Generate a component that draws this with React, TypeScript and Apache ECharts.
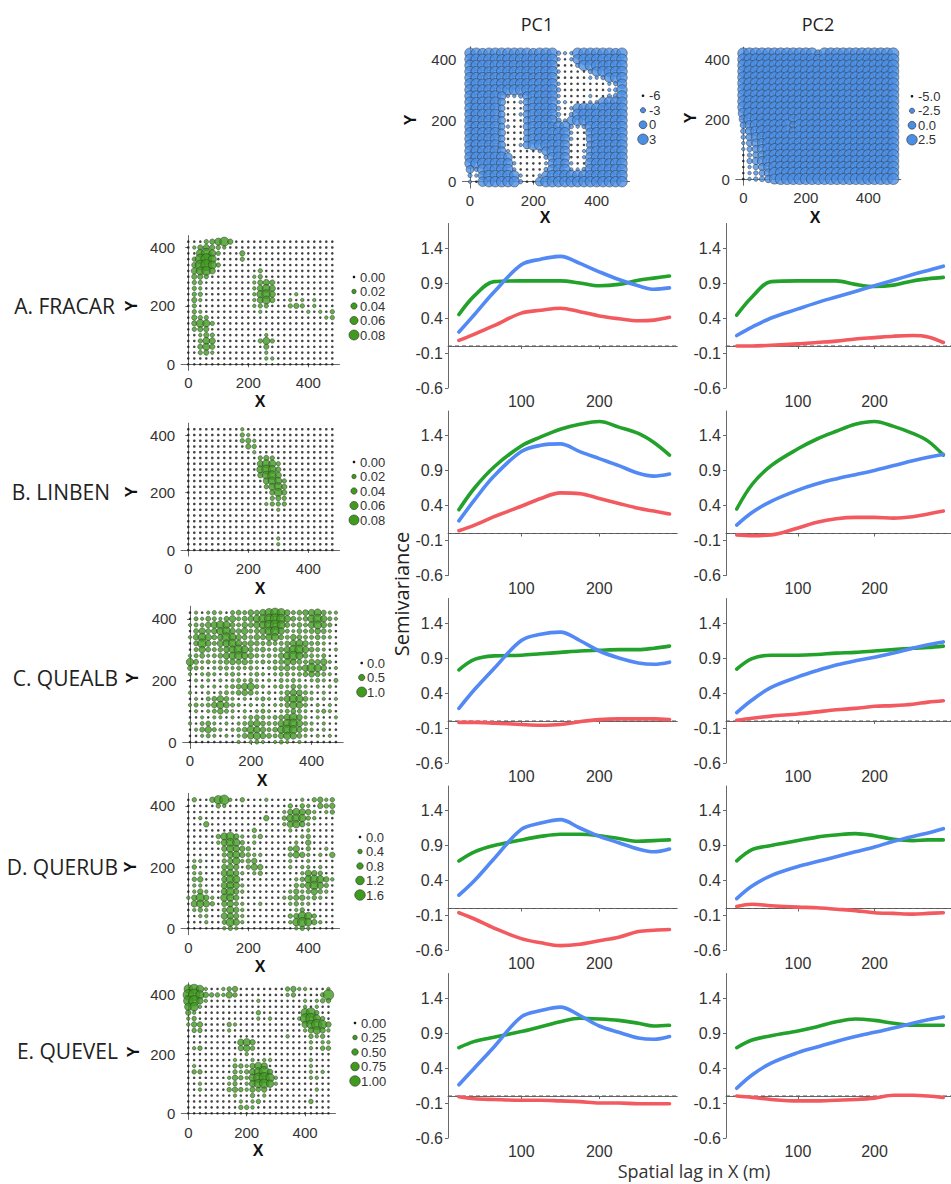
import React, { useEffect, useRef } from "react";
import * as echarts from "echarts";

// ---------------- Semivariogram data ----------------
const lag = [20, 40, 65, 100, 125, 150, 175, 200, 225, 250, 270, 290];

const fracarPC1Green = [0.45, 0.72, 0.92, 0.93, 0.93, 0.93, 0.9, 0.86, 0.88, 0.94, 0.97, 1.0];
const fracarPC1Blue = [0.2, 0.45, 0.77, 1.16, 1.24, 1.28, 1.18, 1.06, 0.95, 0.86, 0.81, 0.83];
const fracarPC1Red = [0.08, 0.17, 0.29, 0.47, 0.51, 0.54, 0.49, 0.43, 0.39, 0.36, 0.37, 0.41];
const fracarPC2Green = [0.44, 0.7, 0.92, 0.93, 0.93, 0.93, 0.88, 0.85, 0.87, 0.93, 0.96, 0.98];
const fracarPC2Blue = [0.15, 0.27, 0.4, 0.53, 0.62, 0.7, 0.78, 0.86, 0.94, 1.02, 1.08, 1.14];
const fracarPC2Red = [0.0, 0.0, 0.01, 0.03, 0.05, 0.07, 0.1, 0.12, 0.14, 0.15, 0.13, 0.05];

const linbenPC1Green = [0.34, 0.65, 0.95, 1.25, 1.38, 1.49, 1.56, 1.6, 1.52, 1.43, 1.3, 1.12];
const linbenPC1Blue = [0.18, 0.48, 0.82, 1.17, 1.26, 1.28, 1.17, 1.07, 0.97, 0.86, 0.82, 0.85];
const linbenPC1Red = [0.04, 0.12, 0.24, 0.39, 0.5, 0.58, 0.57, 0.5, 0.43, 0.36, 0.32, 0.28];
const linbenPC2Green = [0.35, 0.7, 0.97, 1.21, 1.35, 1.46, 1.56, 1.6, 1.53, 1.43, 1.32, 1.12];
const linbenPC2Blue = [0.12, 0.3, 0.46, 0.62, 0.71, 0.78, 0.84, 0.9, 0.97, 1.04, 1.09, 1.13];
const linbenPC2Red = [-0.02, -0.03, -0.02, 0.08, 0.16, 0.21, 0.23, 0.23, 0.22, 0.24, 0.28, 0.32];

const quealbPC1Green = [0.73, 0.88, 0.93, 0.94, 0.96, 0.98, 1.0, 1.01, 1.02, 1.02, 1.04, 1.07];
const quealbPC1Blue = [0.18, 0.45, 0.75, 1.15, 1.24, 1.27, 1.15, 1.0, 0.9, 0.83, 0.81, 0.84];
const quealbPC1Red = [-0.02, -0.02, -0.03, -0.05, -0.06, -0.05, -0.01, 0.02, 0.03, 0.03, 0.03, 0.02];
const quealbPC2Green = [0.74, 0.89, 0.94, 0.94, 0.95, 0.97, 0.98, 1.0, 1.02, 1.04, 1.05, 1.07];
const quealbPC2Blue = [0.12, 0.3, 0.48, 0.63, 0.72, 0.8, 0.86, 0.91, 0.97, 1.04, 1.09, 1.13];
const quealbPC2Red = [0.01, 0.04, 0.07, 0.1, 0.13, 0.16, 0.18, 0.21, 0.22, 0.24, 0.27, 0.29];

const querubPC1Green = [0.68, 0.81, 0.9, 0.98, 1.03, 1.06, 1.06, 1.04, 1.0, 0.96, 0.97, 0.98];
const querubPC1Blue = [0.19, 0.4, 0.71, 1.13, 1.22, 1.27, 1.15, 1.03, 0.94, 0.85, 0.81, 0.85];
const querubPC1Red = [-0.06, -0.15, -0.28, -0.43, -0.49, -0.53, -0.51, -0.46, -0.41, -0.33, -0.31, -0.3];
const querubPC2Green = [0.68, 0.84, 0.9, 0.97, 1.02, 1.05, 1.07, 1.04, 0.99, 0.97, 0.98, 0.98];
const querubPC2Blue = [0.14, 0.32, 0.47, 0.6, 0.67, 0.74, 0.81, 0.88, 0.96, 1.03, 1.08, 1.14];
const querubPC2Red = [0.03, 0.06, 0.04, 0.02, 0.01, -0.01, -0.03, -0.06, -0.07, -0.08, -0.07, -0.06];

const quevelPC1Green = [0.69, 0.78, 0.84, 0.92, 0.99, 1.06, 1.11, 1.1, 1.08, 1.04, 1.0, 1.01];
const quevelPC1Blue = [0.16, 0.4, 0.7, 1.13, 1.22, 1.27, 1.15, 1.0, 0.91, 0.83, 0.81, 0.85];
const quevelPC1Red = [-0.01, -0.04, -0.05, -0.06, -0.06, -0.07, -0.08, -0.1, -0.1, -0.11, -0.11, -0.11];
const quevelPC2Green = [0.69, 0.8, 0.86, 0.93, 0.99, 1.06, 1.1, 1.08, 1.04, 1.01, 1.01, 1.01];
const quevelPC2Blue = [0.11, 0.3, 0.47, 0.62, 0.7, 0.78, 0.85, 0.91, 0.97, 1.04, 1.09, 1.13];
const quevelPC2Red = [0.0, -0.02, -0.05, -0.07, -0.07, -0.06, -0.05, -0.03, 0.01, 0.01, 0.0, -0.02];

const semiTicks = [-0.6, -0.1, 0.4, 0.9, 1.4];
const lagTicks = [100, 200];

// ---------------- Map data (sampling grid, 20 m) ----------------
const gridX = [0, 20, 40, 60, 80, 100, 120, 140, 160, 180, 200, 220, 240, 260, 280, 300, 320, 340, 360, 380, 400, 420, 440, 460, 480];
const gridY = [420, 400, 380, 360, 340, 320, 300, 280, 260, 240, 220, 200, 180, 160, 140, 120, 100, 80, 60, 40, 20, 0];
const mapTicks = [0, 200, 400];

// PC1 score class: value = -6 + digit
const pc1Rows = [
  "99899 99999 89992 11999 99989",
  "99999 89999 99991 01899 99999",
  "99999 99989 99990 00299 98999",
  "99989 99999 99991 00002 89999",
  "99999 99999 89990 00001 12899",
  "99899 99999 99991 00000 00128",
  "99999 99999 99992 00000 00129",
  "99999 71127 99991 00001 00239",
  "98999 60016 99991 10001 18999",
  "99999 50006 99982 01899 99999",
  "99999 50016 99992 02999 98999",
  "99899 60006 99993 17999 99999",
  "99999 51006 99989 92129 99999",
  "99999 60005 99999 91008 99989",
  "99999 50006 99989 81007 99999",
  "99989 60016 99999 80006 99999",
  "99999 71000 01799 80017 99999",
  "99999 97000 00289 80018 99999",
  "99999 98100 00179 71009 99899",
  "62999 99100 00289 91129 99999",
  "21799 99810 01799 99999 99999",
  "10899 99920 07999 99999 99999",
];
// PC2 score class: value = -5 + 0.9*digit
const pc2Rows = [
  "99999 99999 99599 99999 99999",
  "99999 99999 99899 99999 99999",
  "99999 99999 99999 99999 99999",
  "99999 99999 99999 99999 99999",
  "99999 99999 99999 99999 99999",
  "99999 99999 99999 99999 99999",
  "99999 99999 99999 99999 99999",
  "99999 99999 99999 99999 99999",
  "99999 99999 99999 99999 99999",
  "99999 99999 99999 99999 99999",
  "89999 99999 99999 99999 99999",
  "69999 99989 99999 99999 99999",
  "47999 99959 99999 99999 99999",
  "36899 99969 99999 99999 99999",
  "25789 99999 99999 99999 99999",
  "14679 99999 99999 99999 99999",
  "13579 99999 99999 99999 99999",
  "02468 99999 99999 99999 99999",
  "03579 99999 99999 99999 99999",
  "01357 99999 99999 99999 99999",
  "01246 99999 99999 99999 99999",
  "01235 89999 99999 99999 99999",
];
// FRACAR abundance: value = 0.01*digit
const fracarRows = [
  "00023 57300 00000 00000 00000",
  "01343 21000 00000 00000 00000",
  "00685 20003 00000 00000 00000",
  "02896 00002 00000 00000 00000",
  "03896 20000 00000 00000 00000",
  "04674 00000 00200 00000 00000",
  "03320 00000 01200 00000 00000",
  "02200 00000 01343 00000 00000",
  "02100 00000 01464 00000 00000",
  "02200 00000 01574 00010 00000",
  "03100 00000 01463 00101 01000",
  "02000 00000 01220 00232 01000",
  "02100 00000 00100 00000 10102",
  "03220 00000 00000 00000 00012",
  "03652 00000 00000 00000 00000",
  "02330 00000 00000 00000 00000",
  "00132 00000 00010 00000 00000",
  "00254 00000 00252 00000 00000",
  "00353 00000 00030 00000 00000",
  "00231 00000 00010 00000 00000",
  "00000 00000 00011 00000 00000",
  "00000 00000 00000 00000 00000",
];
// LINBEN abundance: value = 0.01*digit
const linbenRows = [
  "00000 00001 00000 00000 00000",
  "00000 00002 10000 00000 00000",
  "00000 00002 31000 00000 00000",
  "00000 00000 32000 00000 00000",
  "00000 00000 01000 00000 00000",
  "00000 00000 00232 00000 00000",
  "00000 00000 00465 20000 00000",
  "00000 00000 00576 30000 00000",
  "00000 00000 00367 40000 00000",
  "00000 00000 00046 52000 00000",
  "00000 00000 00025 63000 00000",
  "00000 00000 00003 63000 00000",
  "00000 00000 00002 32000 00000",
  "00000 00000 00012 22000 00000",
  "00000 00000 00000 10000 00000",
  "00000 00000 00000 00000 00000",
  "00000 00000 00000 00000 00000",
  "00000 00000 00000 00000 00000",
  "00000 00000 00000 00000 00000",
  "00000 00000 00000 10000 00000",
  "00000 00000 00000 10000 00000",
  "00000 00000 00000 00000 00000",
];
// QUEALB abundance: value = 0.11*digit
const quealbRows = [
  "01012 10232 43578 74234 56311",
  "02132 13523 46789 85323 68521",
  "12245 76324 35689 73232 57420",
  "03534 67435 23578 52132 34310",
  "14753 48643 24356 32432 23210",
  "03842 56753 43232 23564 22100",
  "02532 34686 32312 35785 32101",
  "12312 35675 42121 46863 21200",
  "63121 23434 21212 35432 43510",
  "32101 22121 21012 34235 86401",
  "10121 01210 12101 22123 43210",
  "01010 10121 21010 21210 12102",
  "00101 01235 62101 21321 01010",
  "10010 12134 31010 13542 10100",
  "01023 53101 01210 25763 10101",
  "12124 64210 10101 13652 01010",
  "01012 42101 01210 12321 01210",
  "00101 10101 23212 35741 01001",
  "10231 01012 45322 57852 10100",
  "01352 10123 65423 68742 10100",
  "00121 01013 56432 46531 01010",
  "00000 00010 12101 21010 00000",
];
// QUERUB abundance: value = 0.2*digit
const querubRows = [
  "02003 67102 00010 00001 02312",
  "00000 21000 00000 00202 10323",
  "00000 00000 00000 01354 31012",
  "00100 00000 00030 02565 21000",
  "00030 00000 00000 01453 10000",
  "00000 00000 02000 00100 10000",
  "00000 25631 01200 00001 20000",
  "00000 14652 01000 00010 30000",
  "00000 03543 20000 00240 20010",
  "00000 02453 21100 00243 10103",
  "01100 02351 23000 00100 10000",
  "02000 03430 24300 00101 10100",
  "01100 04531 01200 00001 43200",
  "02300 03650 00000 00012 56531",
  "01100 04541 00000 00022 46420",
  "01310 04631 00000 00131 24210",
  "13631 05530 00000 01233 12100",
  "04542 03421 00100 00121 10000",
  "01210 02531 00000 00012 00000",
  "00110 04431 00000 00236 52000",
  "00010 02641 00000 00157 53100",
  "00000 01210 00000 00012 10000",
];
// QUEVEL abundance: value = 0.125*digit
const quevelRows = [
  "67510 01230 00000 00231 10001",
  "89632 21420 00000 00120 00028",
  "78410 00000 00100 00000 10122",
  "56100 00000 00000 00000 10100",
  "31000 00000 00200 00000 67200",
  "12000 00000 00101 00001 78520",
  "13300 00210 00000 00000 46863",
  "02200 00100 00000 00000 13531",
  "00000 00000 00000 00100 02120",
  "00000 00004 53000 00000 01011",
  "01200 00003 42000 00000 01022",
  "00000 00000 10000 00000 00000",
  "00000 00010 01011 00000 01000",
  "01000 00022 13540 00000 01000",
  "02200 00021 24683 00000 01010",
  "00000 00132 15786 10000 01100",
  "00100 00120 14675 10000 00000",
  "00100 00232 13230 00000 00100",
  "00000 00010 02010 00000 00000",
  "00000 00001 01200 00000 02000",
  "00000 00002 21000 00000 00000",
  "00000 00000 00000 00000 00000",
];

const pc1LegendValues = [-6, -3, 0, 3];
const pc1LegendLabels = ["-6", "-3", "0", "3"];
const pc2LegendValues = [-5, -2.5, 0, 2.5];
const pc2LegendLabels = ["-5.0", "-2.5", "0.0", "2.5"];
const fracarLegendValues = [0, 0.02, 0.04, 0.06, 0.08];
const fracarLegendLabels = ["0.00", "0.02", "0.04", "0.06", "0.08"];
const linbenLegendValues = [0, 0.02, 0.04, 0.06, 0.08];
const linbenLegendLabels = ["0.00", "0.02", "0.04", "0.06", "0.08"];
const quealbLegendValues = [0, 0.5, 1.0];
const quealbLegendLabels = ["0.0", "0.5", "1.0"];
const querubLegendValues = [0, 0.4, 0.8, 1.2, 1.6];
const querubLegendLabels = ["0.0", "0.4", "0.8", "1.2", "1.6"];
const quevelLegendValues = [0, 0.25, 0.5, 0.75, 1.0];
const quevelLegendLabels = ["0.00", "0.25", "0.50", "0.75", "1.00"];

const rowNames = ["A. FRACAR", "B. LINBEN", "C. QUEALB", "D. QUERUB", "E. QUEVEL"];

// ---------------- Styling / layout ----------------
const W = 951;
const H = 1184;
const LINE_GREEN = "#22a12b";
const LINE_BLUE = "#5289f5";
const LINE_RED = "#f25a60";
const MAP_GREEN = "#3f9a1e";
const MAP_BLUE = "#4a8ee6";
const TICK_FONT = "Liberation Sans, Arial, sans-serif";
const TITLE_FONT = "Open Sans, Noto Sans, sans-serif";
const LEG_STEP = 14.5;

type MapCfg = {
  rows: string[];
  step: number;
  offset: number;
  color: string;
  legendValues: number[];
  legendLabels: string[];
  x0: number; sx: number; y0: number; sy: number;
  legX: number; legLabelX: number; legMid: number;
  maxSize: number;
  yName: [number, number];
  xName: [number, number];
};

const mapCfgs: MapCfg[] = [
  { rows: pc1Rows, step: 1, offset: -6, color: MAP_BLUE, legendValues: pc1LegendValues, legendLabels: pc1LegendLabels,
    x0: 470, sx: 0.3167, y0: 181.7, sy: 0.306, legX: 643, legLabelX: 649, legMid: 117.5, maxSize: 10.5,
    yName: [410, 120], xName: [545, 217] },
  { rows: pc2Rows, step: 0.9, offset: -5, color: MAP_BLUE, legendValues: pc2LegendValues, legendLabels: pc2LegendLabels,
    x0: 743.3, sx: 0.3125, y0: 179, sy: 0.299, legX: 912, legLabelX: 918, legMid: 118, maxSize: 10.5,
    yName: [690, 118], xName: [815, 217] },
  { rows: fracarRows, step: 0.01, offset: 0, color: MAP_GREEN, legendValues: fracarLegendValues, legendLabels: fracarLegendLabels,
    x0: 188.3, sx: 0.3, y0: 364.3, sy: 0.292, legX: 354, legLabelX: 360, legMid: 306, maxSize: 10,
    yName: [131, 306], xName: [260, 401] },
  { rows: linbenRows, step: 0.01, offset: 0, color: MAP_GREEN, legendValues: linbenLegendValues, legendLabels: linbenLegendLabels,
    x0: 188.3, sx: 0.3, y0: 550, sy: 0.2875, legX: 354, legLabelX: 360, legMid: 491, maxSize: 10,
    yName: [131, 492], xName: [260, 588] },
  { rows: quealbRows, step: 0.11, offset: 0, color: MAP_GREEN, legendValues: quealbLegendValues, legendLabels: quealbLegendLabels,
    x0: 190, sx: 0.304, y0: 742, sy: 0.308, legX: 361.7, legLabelX: 367, legMid: 677.5, maxSize: 10,
    yName: [132, 678], xName: [262, 780] },
  { rows: querubRows, step: 0.2, offset: 0, color: MAP_GREEN, legendValues: querubLegendValues, legendLabels: querubLegendLabels,
    x0: 188.3, sx: 0.3, y0: 928.3, sy: 0.306, legX: 360, legLabelX: 366, legMid: 866, maxSize: 10.5,
    yName: [130, 867], xName: [260, 966] },
  { rows: quevelRows, step: 0.125, offset: 0, color: MAP_GREEN, legendValues: quevelLegendValues, legendLabels: quevelLegendLabels,
    x0: 188.3, sx: 0.292, y0: 1113.3, sy: 0.296, legX: 355, legLabelX: 361, legMid: 1052, maxSize: 10.5,
    yName: [133, 1052], xName: [258, 1150] },
];

const MAP_XMIN = -24, MAP_XMAX = 504, MAP_YMIN = -21, MAP_YMAX = 441;

const lineLefts = [448, 726];
const lineTops = [223.5, 411, 598.5, 786, 973.5];
const LAG_MIN = 6, LAG_MAX = 300, SEMI_MIN = -0.6, SEMI_MAX = 1.75;
const LINE_W = 229.3, LINE_H = 164.5;

const panels = [
  [[fracarPC1Green, fracarPC1Blue, fracarPC1Red], [fracarPC2Green, fracarPC2Blue, fracarPC2Red]],
  [[linbenPC1Green, linbenPC1Blue, linbenPC1Red], [linbenPC2Green, linbenPC2Blue, linbenPC2Red]],
  [[quealbPC1Green, quealbPC1Blue, quealbPC1Red], [quealbPC2Green, quealbPC2Blue, quealbPC2Red]],
  [[querubPC1Green, querubPC1Blue, querubPC1Red], [querubPC2Green, querubPC2Blue, querubPC2Red]],
  [[quevelPC1Green, quevelPC1Blue, quevelPC1Red], [quevelPC2Green, quevelPC2Blue, quevelPC2Red]],
];

function sizeOf(cfg: MapCfg, v: number) {
  const lo = cfg.legendValues[0];
  const hi = cfg.legendValues[cfg.legendValues.length - 1];
  const s = 2.6 + (cfg.maxSize - 2.6) * (v - lo) / (hi - lo);
  return Math.max(2.6, s);
}

function buildOption() {
  const grids: any[] = [];
  const xAxes: any[] = [];
  const yAxes: any[] = [];
  const series: any[] = [];
  const elements: any[] = [];

  const axisCommon = {
    axisLine: { show: true, lineStyle: { color: "#6a6a6a", width: 1 } },
    splitLine: { show: false },
  };

  // ---- maps ----
  mapCfgs.forEach((cfg, k) => {
    const left = cfg.x0 + MAP_XMIN * cfg.sx;
    const width = (MAP_XMAX - MAP_XMIN) * cfg.sx;
    const top = cfg.y0 - MAP_YMAX * cfg.sy;
    const height = (MAP_YMAX - MAP_YMIN) * cfg.sy;
    grids.push({ left, top, width, height, containLabel: false });
    xAxes.push({
      type: "value", gridIndex: k, min: MAP_XMIN, max: MAP_XMAX, ...axisCommon,
      axisTick: { show: true, customValues: mapTicks, length: 3, lineStyle: { color: "#6a6a6a" } },
      axisLabel: { customValues: mapTicks, fontSize: 15, color: "#333", fontFamily: TICK_FONT, margin: 5 },
    });
    yAxes.push({
      type: "value", gridIndex: k, min: MAP_YMIN, max: MAP_YMAX, ...axisCommon,
      axisTick: { show: true, customValues: mapTicks, length: 3, lineStyle: { color: "#6a6a6a" } },
      axisLabel: { customValues: mapTicks, fontSize: 15, color: "#333", fontFamily: TICK_FONT, margin: 6 },
    });
    const data: any[] = [];
    cfg.rows.forEach((row, r) => {
      const chars = row.replace(/\s+/g, "");
      gridX.forEach((x, c) => {
        const d = Number(chars[c] ?? "0");
        const v = cfg.offset + d * cfg.step;
        const size = sizeOf(cfg, v);
        const tiny = size < 3.2;
        data.push({
          value: [x, gridY[r], v],
          symbolSize: size,
          itemStyle: tiny
            ? { color: "#151515", borderWidth: 0 }
            : { color: cfg.color, borderColor: "#2e2e2e", borderWidth: 0.6 },
        });
      });
    });
    series.push({
      type: "scatter", xAxisIndex: k, yAxisIndex: k, symbol: "circle",
      data, silent: true, z: 2,
    });

    // legend
    const n = cfg.legendValues.length;
    cfg.legendValues.forEach((lv, i) => {
      const size = sizeOf(cfg, lv);
      const tiny = size < 3.2;
      const y = cfg.legMid + (i - (n - 1) / 2) * LEG_STEP;
      elements.push({
        type: "circle", shape: { cx: cfg.legX, cy: y, r: size / 2 },
        style: tiny ? { fill: "#151515" } : { fill: cfg.color, stroke: "#2e2e2e", lineWidth: 0.6 },
      });
      elements.push({
        type: "text", x: cfg.legLabelX, y,
        style: { text: cfg.legendLabels[i], fill: "#333", font: `13px ${TICK_FONT}`,
          align: "left", verticalAlign: "middle", textAlign: "left", textVerticalAlign: "middle" },
      });
    });
    // axis names
    elements.push({
      type: "text", x: cfg.yName[0], y: cfg.yName[1], rotation: Math.PI / 2,
      style: { text: "Y", fill: "#111", font: `bold 16px ${TICK_FONT}`,
        align: "center", verticalAlign: "middle", textAlign: "center", textVerticalAlign: "middle" },
    });
    elements.push({
      type: "text", x: cfg.xName[0], y: cfg.xName[1],
      style: { text: "X", fill: "#111", font: `bold 16px ${TICK_FONT}`,
        align: "center", verticalAlign: "middle", textAlign: "center", textVerticalAlign: "middle" },
    });
  });

  // ---- semivariograms ----
  panels.forEach((rowPanels, ri) => {
    rowPanels.forEach((lines, ci) => {
      const k = grids.length;
      grids.push({ left: lineLefts[ci], top: lineTops[ri], width: LINE_W, height: LINE_H, containLabel: false });
      xAxes.push({
        type: "value", gridIndex: k, min: LAG_MIN, max: LAG_MAX, ...axisCommon,
        axisTick: { show: true, customValues: lagTicks, length: 3, lineStyle: { color: "#6a6a6a" } },
        axisLabel: { customValues: lagTicks, fontSize: 16, color: "#333", fontFamily: TICK_FONT, margin: 5 },
      });
      yAxes.push({
        type: "value", gridIndex: k, min: SEMI_MIN, max: SEMI_MAX, ...axisCommon,
        axisTick: { show: true, customValues: semiTicks, length: 3, lineStyle: { color: "#6a6a6a" } },
        axisLabel: {
          customValues: semiTicks, fontSize: 16, color: "#333", fontFamily: TICK_FONT, margin: 5,
          formatter: (v: number) => v.toFixed(1),
        },
      });
      series.push({
        type: "line", xAxisIndex: k, yAxisIndex: k, showSymbol: false, silent: true, z: 1,
        data: [[LAG_MIN, 0], [LAG_MAX, 0]],
        lineStyle: { color: "#555", width: 1.1, type: [4, 3] },
      });
      const colors = [LINE_GREEN, LINE_BLUE, LINE_RED];
      lines.forEach((vals, li) => {
        series.push({
          type: "line", xAxisIndex: k, yAxisIndex: k, showSymbol: false, silent: true, z: 3,
          smooth: 0.35,
          data: lag.map((x, i) => [x, vals[i]]),
          lineStyle: { color: colors[li], width: 3.6, cap: "round", join: "round" },
        });
      });
    });
  });

  // ---- texts ----
  elements.push({
    type: "text", x: 537, y: 24,
    style: { text: "PC1", fill: "#222", font: `18px ${TITLE_FONT}`, align: "center", verticalAlign: "middle",
      textAlign: "center", textVerticalAlign: "middle" },
  });
  elements.push({
    type: "text", x: 818, y: 24,
    style: { text: "PC2", fill: "#222", font: `18px ${TITLE_FONT}`, align: "center", verticalAlign: "middle",
      textAlign: "center", textVerticalAlign: "middle" },
  });
  const rowLabelRight = [115, 110, 118, 118, 118];
  const rowLabelY = [306, 492, 678, 867, 1051];
  rowNames.forEach((name, i) => {
    elements.push({
      type: "text", x: rowLabelRight[i], y: rowLabelY[i],
      style: { text: name, fill: "#222", font: `21px ${TITLE_FONT}`, align: "right", verticalAlign: "middle",
        textAlign: "right", textVerticalAlign: "middle" },
    });
  });
  elements.push({
    type: "text", x: 401, y: 594, rotation: Math.PI / 2,
    style: { text: "Semivariance", fill: "#222", font: `20px ${TITLE_FONT}`, align: "center", verticalAlign: "middle",
      textAlign: "center", textVerticalAlign: "middle" },
  });
  elements.push({
    type: "text", x: 694, y: 1171,
    style: { text: "Spatial lag in X (m)", fill: "#333", font: `18px ${TITLE_FONT}`, align: "center", verticalAlign: "middle",
      textAlign: "center", textVerticalAlign: "middle" },
  });

  return {
    animation: false,
    backgroundColor: "#fff",
    grid: grids,
    xAxis: xAxes,
    yAxis: yAxes,
    series,
    graphic: { elements },
  };
}

export default function App() {
  const ref = useRef<HTMLDivElement>(null);
  useEffect(() => {
    if (!ref.current) return;
    const chart = echarts.init(ref.current, undefined, { renderer: "svg", width: W, height: H });
    chart.setOption(buildOption() as any);
    return () => chart.dispose();
  }, []);
  return (
    <div
      ref={ref}
      style={{ position: "absolute", left: 0, top: 0, width: W, height: H, background: "#fff", overflow: "hidden" }}
    />
  );
}
